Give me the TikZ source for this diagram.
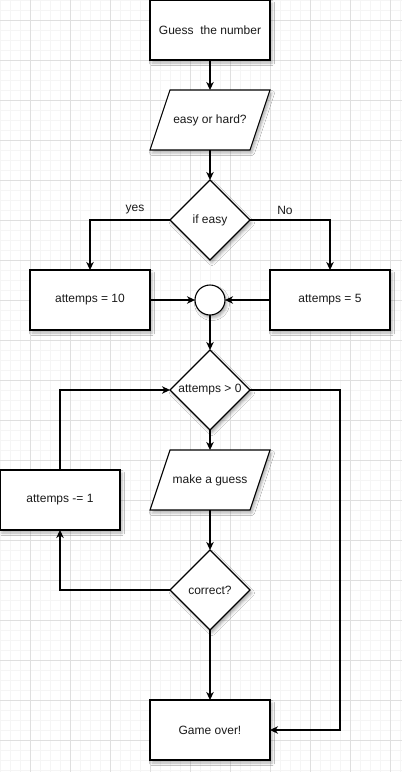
\documentclass[tikz,border=0pt]{standalone}
\usepackage{fontspec}
\setmainfont{Liberation Sans}
\usetikzlibrary{shapes.geometric,arrows.meta,shadows.blur}
\definecolor{gridminor}{HTML}{F5F5F5}
\definecolor{gridmajor}{HTML}{DFDFDF}
\definecolor{ink}{HTML}{1A1A1A}

% input/output parallelogram: the outline first, then a named text node on top
\newcommand\ioshape[3]{%
  \draw[io outline] ([shift={(-40,-30)}]#2) -- ([shift={(60,-30)}]#2)
    -- ([shift={(40,30)}]#2) -- ([shift={(-60,30)}]#2) -- cycle;
  \node[io text] (#1) at (#2) {#3};
}

\begin{document}
\begin{tikzpicture}[x=1pt,y=-1pt,
  font=\fontsize{12}{14}\selectfont,
  soft/.style={blur shadow={shadow xshift=2pt,shadow yshift=-3pt,
      shadow blur radius=2.5pt,shadow opacity=30}},
  outline/.style={draw=black,fill=white,line width=1.1pt,soft},
  box/.style={outline,rectangle,minimum width=120pt,minimum height=60pt,
      inner sep=0pt,outer sep=0pt,text=ink},
  decision/.style={outline,diamond,aspect=1,minimum width=80pt,
      minimum height=80pt,inner sep=0pt,outer sep=0pt,text=ink},
  junction/.style={outline,circle,minimum size=30pt,inner sep=0pt,outer sep=0pt},
  io outline/.style={outline,line join=miter},
  io text/.style={rectangle,minimum width=120pt,minimum height=60pt,
      inner sep=0pt,outer sep=0pt,text=ink},
  flow/.style={draw=black,line width=1.1pt,
      -{Stealth[length=8pt,width=7.5pt,inset=2.5pt]}},
  lbl/.style={text=ink,inner sep=1pt},
]
% canvas and grid
\useasboundingbox (0,0) rectangle (402,772);
\fill[white] (0,0) rectangle (402,772);
\foreach \x in {0,10,...,400} \draw[gridminor,line width=0.8pt] (\x,0) -- (\x,772);
\foreach \y in {0,10,...,770} \draw[gridminor,line width=0.8pt] (0,\y) -- (402,\y);
\foreach \x in {30,70,...,390} \draw[gridmajor,line width=0.8pt] (\x,0) -- (\x,772);
\foreach \y in {20,60,...,760} \draw[gridmajor,line width=0.8pt] (0,\y) -- (402,\y);

% shapes
\node[box] (start) at (210,30) {Guess\ \ the number};
\ioshape{mode}{210,120}{easy or hard?}
\node[decision] (easy) at (210,220) {if easy};
\node[box] (ten) at (90,300) {attemps = 10};
\node[box] (five) at (330,300) {attemps = 5};
\node[junction] (merge) at (210,300) {};
\node[decision] (left) at (210,390) {attemps > 0};
\ioshape{guess}{210,480}{make a guess}
\node[box] (dec) at (60,500) {attemps -= 1};
\node[decision] (check) at (210,590) {correct?};
\node[box] (over) at (210,730) {Game over!};
\coordinate (rt) at (340,390);

% connectors
\draw[flow] (start) -- (mode);
\draw[flow] (mode) -- (easy);
\draw[flow] (easy.west) -| (ten.north);
\draw[flow] (easy.east) -| (five.north);
\node[lbl] (yes) at (135,210) {yes};
\node[lbl] (no) at (285,210) {No};
\draw[flow] (ten.east) -- (merge.west);
\draw[flow] (five.west) -- (merge.east);
\draw[flow] (merge.south) -- (left.north);
\draw[flow] (left.south) -- (guess.north);
\draw[flow] (guess.south) -- (check.north);
\draw[flow] (check.west) -| (dec.south);
\draw[flow] (dec.north) |- (left.west);
\draw[flow] (left.east) -- (rt) |- (over.east);
\draw[flow] (check.south) -- (over.north);
\end{tikzpicture}
\end{document}
